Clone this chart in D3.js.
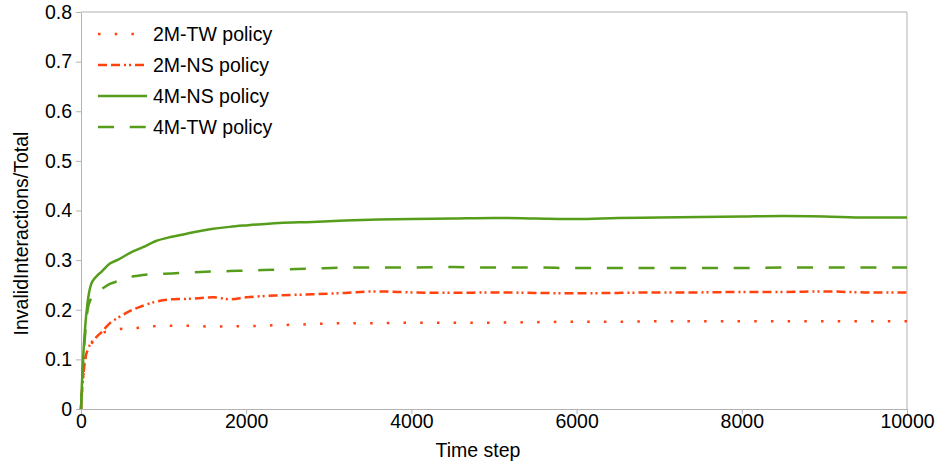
<!DOCTYPE html>
<html>
<head>
<meta charset="utf-8">
<script src="https://cdn.jsdelivr.net/npm/d3@7"></script>
<style>
  html, body { margin: 0; padding: 0; background: #fff; }
  svg { display: block; font-family: "Liberation Sans", Arial, sans-serif; }
</style>
</head>
<body>
<svg id="chart" width="935" height="466"></svg>
<script>
// ---- data ----
const timeSteps = [0, 10, 25, 50, 80, 120, 180, 250, 350, 450, 600, 750, 900, 1100, 1300, 1600, 1800, 2000, 2400, 2800, 3200, 3600, 4000, 4500, 5000, 5500, 6000, 6500, 7000, 7500, 8000, 8500, 9000, 9500, 10000];

const tw2M = [0, 0.03, 0.06, 0.10, 0.118, 0.13, 0.142, 0.152, 0.158, 0.161, 0.163, 0.164, 0.167, 0.168, 0.168, 0.166, 0.167, 0.167, 0.169, 0.171, 0.173, 0.173, 0.174, 0.174, 0.174, 0.175, 0.176, 0.176, 0.177, 0.177, 0.177, 0.177, 0.177, 0.177, 0.177];
const ns2M = [0, 0.03, 0.06, 0.10, 0.119, 0.132, 0.144, 0.155, 0.173, 0.184, 0.198, 0.208, 0.216, 0.221, 0.222, 0.225, 0.221, 0.225, 0.229, 0.231, 0.234, 0.237, 0.235, 0.234, 0.235, 0.234, 0.233, 0.234, 0.235, 0.235, 0.236, 0.236, 0.237, 0.235, 0.235];
const ns4M = [0, 0.045, 0.10, 0.165, 0.215, 0.25, 0.266, 0.277, 0.293, 0.301, 0.315, 0.326, 0.338, 0.347, 0.354, 0.363, 0.367, 0.370, 0.375, 0.377, 0.380, 0.382, 0.383, 0.384, 0.385, 0.384, 0.383, 0.385, 0.386, 0.387, 0.388, 0.389, 0.388, 0.386, 0.386];
const tw4M = [0, 0.04, 0.09, 0.15, 0.20, 0.222, 0.235, 0.242, 0.252, 0.258, 0.266, 0.27, 0.272, 0.273, 0.275, 0.277, 0.278, 0.279, 0.281, 0.283, 0.285, 0.285, 0.285, 0.286, 0.285, 0.285, 0.284, 0.284, 0.284, 0.284, 0.284, 0.285, 0.285, 0.285, 0.285];

const seriesNames = ["2M-TW policy", "2M-NS policy", "4M-NS policy", "4M-TW policy"];
const seriesValues = [tw2M, ns2M, ns4M, tw4M];

const xTicks = [0, 2000, 4000, 6000, 8000, 10000];
const yTicks = [0, 0.1, 0.2, 0.3, 0.4, 0.5, 0.6, 0.7, 0.8];

const xTitle = "Time step";
const yTitle = "InvalidInteractions/Total";

// ---- styles ----
const orange = "#ff420e", green = "#579d1c";
const styles = [
  { color: orange, dash: "2.5,14.2" },
  { color: orange, dash: "9,4,9,4,2,3,2,4" },
  { color: green, dash: null },
  { color: green, dash: "16,15.7" }
];

const svg = d3.select("#chart");
const margin = { left: 81, right: 28, top: 12, bottom: 57 };
const W = 935, H = 466;
const x = d3.scaleLinear().domain([0, 10000]).range([margin.left, W - margin.right]);
const y = d3.scaleLinear().domain([0, 0.8]).range([H - margin.bottom, margin.top]);

const axisColor = "#b3b3b3";
const fontSize = 19.5;

// plot frame (top & right)
svg.append("path")
  .attr("d", `M${x(0)},${y(0.8)}H${x(10000)}V${y(0)}`)
  .attr("fill", "none").attr("stroke", axisColor).attr("stroke-width", 1);

// x axis
const gx = svg.append("g").attr("transform", `translate(0,${y(0)})`)
  .call(d3.axisBottom(x).tickValues(xTicks).tickFormat(d3.format("d")).tickSize(5).tickSizeOuter(0));
// y axis
const gy = svg.append("g").attr("transform", `translate(${x(0)},0)`)
  .call(d3.axisLeft(y).tickValues(yTicks).tickFormat(d => d === 0 ? "0" : d.toFixed(1)).tickSize(5).tickSizeOuter(0));

[gx, gy].forEach(g => {
  g.select(".domain").attr("stroke", axisColor);
  g.selectAll(".tick line").attr("stroke", axisColor);
  g.selectAll(".tick text").attr("fill", "#000").style("font-size", fontSize + "px")
    .style("font-family", '"Liberation Sans", Arial, sans-serif');
});
gx.selectAll(".tick text").attr("dy", "0").attr("y", 19);
gy.selectAll(".tick text").attr("x", -9);

// axis titles
svg.append("text").attr("x", 478).attr("y", 457)
  .attr("text-anchor", "middle").style("font-size", fontSize + "px").text(xTitle);
svg.append("text").attr("transform", `translate(27.5,233.5) rotate(-90)`)
  .attr("text-anchor", "middle").style("font-size", fontSize + "px").text(yTitle);

// lines
const line = d3.line().x((d, i) => x(timeSteps[i])).y(d => y(d)).curve(d3.curveMonotoneX);
const drawOrder = [0, 1, 3, 2];
drawOrder.forEach(k => {
  svg.append("path")
    .datum(seriesValues[k])
    .attr("d", line)
    .attr("fill", "none")
    .attr("stroke", styles[k].color)
    .attr("stroke-width", 2.5)
    .attr("stroke-dasharray", styles[k].dash)
    .attr("stroke-linejoin", "round");
});

// legend
const lg = svg.append("g");
seriesNames.forEach((name, i) => {
  const yy = 34 + i * 31;
  lg.append("line").attr("x1", 98).attr("x2", 147).attr("y1", yy).attr("y2", yy)
    .attr("stroke", styles[i].color).attr("stroke-width", 2.5)
    .attr("stroke-dasharray", styles[i].dash);
  lg.append("text").attr("x", 153).attr("y", yy).attr("dy", "0.35em")
    .style("font-size", fontSize + "px").text(name);
});
</script>
</body>
</html>
